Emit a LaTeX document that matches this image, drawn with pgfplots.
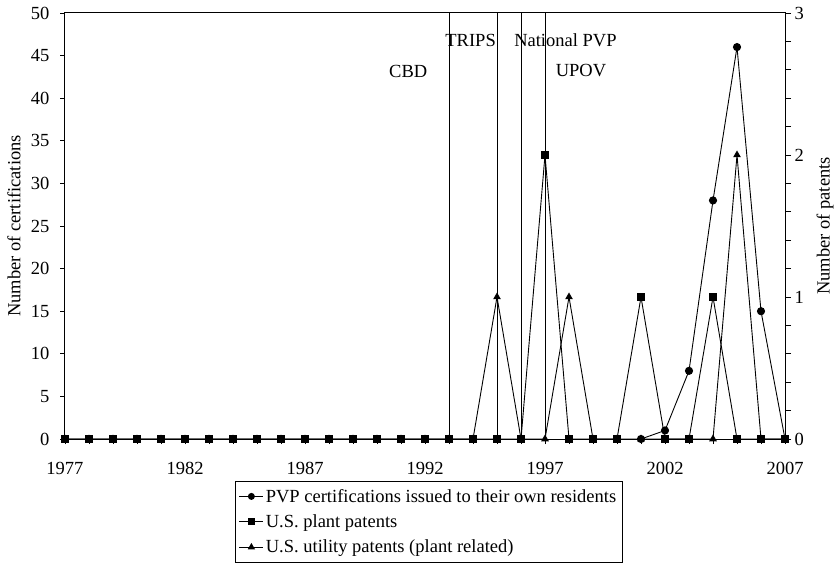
\documentclass[border=0pt]{standalone}
\usepackage{fontspec}
\setmainfont{Liberation Serif}
\usepackage{pgfplots}
\usepackage{pgfplotstable}
\pgfplotsset{compat=1.18}

\pgfplotstableread{
year plant utility
1977 0 0
1978 0 0
1979 0 0
1980 0 0
1981 0 0
1982 0 0
1983 0 0
1984 0 0
1985 0 0
1986 0 0
1987 0 0
1988 0 0
1989 0 0
1990 0 0
1991 0 0
1992 0 0
1993 0 0
1994 0 0
1995 0 1
1996 0 0
1997 2 0
1998 0 1
1999 0 0
2000 0 0
2001 1 0
2002 0 0
2003 0 0
2004 1 0
2005 0 2
2006 0 0
2007 0 0
}\patents

\pgfplotstableread{
year pvp
2001 0
2002 1
2003 8
2004 28
2005 46
2006 15
2007 0
}\pvp

\pgfplotsset{
  every axis/.append style={font=\fontsize{18.5}{22}\selectfont},
  legend image code/.code={\draw[mark repeat=2,mark phase=2,#1] plot coordinates {(0pt,0pt)(12pt,0pt)(24pt,0pt)};},
  base/.style={scale only axis, width=720pt, height=426pt, xmin=1977, xmax=2007},
}

\begin{document}
\begin{tikzpicture}
% hidden axis: utility patents (drawn underneath)
\begin{axis}[base, ymin=0, ymax=3, hide axis]
\addplot[black, line width=0.9pt, mark=triangle*, mark size=3.6pt] table[x=year, y=utility] {\patents};
\end{axis}
\begin{axis}[
  base, name=main, ymin=0, ymax=50,
  xtick={1977,1982,...,2007}, minor xtick={1977,...,2007},
  ytick={0,5,...,50},
  /pgf/number format/1000 sep={},
  /pgf/number format/assume math mode=true,
  tick align=outside, tick pos=left,
  major tick length=5pt, minor tick length=5pt,
  tick style={black, line width=0.8pt},
  axis line style={black, line width=1pt},
  xticklabel style={yshift=-15pt},
  yticklabel style={xshift=-7pt},
  ylabel={Number of certifications},
  ylabel style={at={(axis description cs:-0.0708,0.5)}, anchor=center},
]
\addplot[black, line width=0.9pt] coordinates {(1993,0) (1993,50)};
\addplot[black, line width=0.9pt] coordinates {(1995,0) (1995,50)};
\addplot[black, line width=0.9pt] coordinates {(1996,0) (1996,50)};
\addplot[black, line width=0.9pt] coordinates {(1997,0) (1997,50)};
\addplot[black, line width=0.9pt, mark=*, mark size=3.6pt] table[x=year, y=pvp] {\pvp};
\node at (axis cs:1991.3,43.1) {CBD};
\node at (axis cs:1993.9,46.8) {TRIPS};
\node at (axis cs:1997.85,46.8) {National PVP};
\node at (axis cs:1998.5,43.3) {UPOV};
\end{axis}
\begin{axis}[
  base, ymin=0, ymax=3,
  axis x line=none, axis y line*=right,
  ytick={0,1,2,3}, minor y tick num=4,
  tick align=outside,
  major tick length=6pt, minor tick length=6pt,
  tick style={black, line width=0.8pt},
  axis line style={black, line width=1pt},
  /pgf/number format/assume math mode=true,
  ylabel={Number of patents},
  ylabel style={at={(axis description cs:1.0556,0.5)}, anchor=center, rotate=0},
  legend style={at={(0.505,-0.098)}, anchor=north, draw=black, line width=0.8pt,
    cells={anchor=west}, row sep=7pt, inner xsep=4pt, inner ysep=6pt,
    font=\fontsize{18.5}{22}\selectfont},
]
\addlegendimage{black, line width=0.9pt, mark=*, mark size=3pt}
\addlegendimage{black, line width=0.9pt, mark=square*, mark size=3pt}
\addlegendimage{black, line width=0.9pt, mark=triangle*, mark size=3.3pt}
\addplot[black, line width=0.9pt, mark=square*, mark size=3.6pt, forget plot] table[x=year, y=plant] {\patents};
\legend{PVP certifications issued to their own residents, U.S. plant patents, U.S. utility patents (plant related)}
\end{axis}
\pgfresetboundingbox
\path ([shift={(-65pt,-131pt)}]main.south west) rectangle ([shift={(50pt,13pt)}]main.north east);
\end{tikzpicture}
\end{document}
